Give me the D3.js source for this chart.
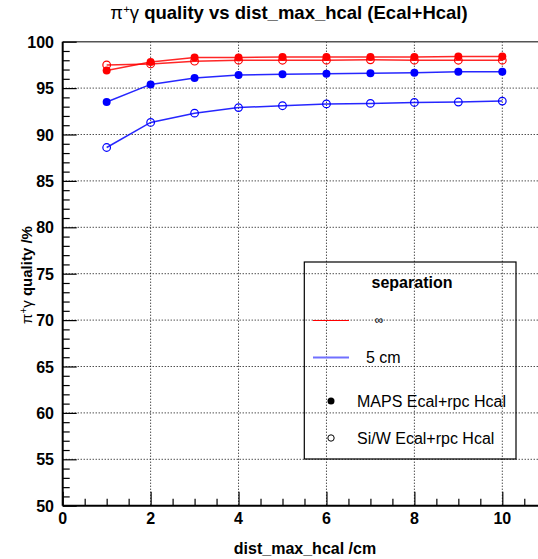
<!DOCTYPE html>
<html><head><meta charset="utf-8">
<script src="https://cdn.jsdelivr.net/npm/d3@7"></script>
<style>
body{margin:0;background:#fff;}
text{font-family:"Liberation Sans",Arial,sans-serif;}
</style></head>
<body><svg id="c" width="538" height="559"></svg>
<script>
const xValues = [1,2,3,4,5,6,7,8,9,10];
const mapsInf  = [96.9,97.8,98.3,98.3,98.35,98.35,98.35,98.35,98.4,98.4];
const siwInf   = [97.5,97.6,97.9,98.0,98.0,98.0,98.05,98.0,98.0,98.0];
const maps5cm  = [93.5,95.4,96.1,96.4,96.5,96.55,96.6,96.65,96.75,96.75];
const siw5cm   = [88.6,91.3,92.3,92.9,93.1,93.3,93.35,93.45,93.5,93.6];
const xTicks = [0,2,4,6,8,10];
const yTicks = [50,55,60,65,70,75,80,85,90,95,100];
const seriesList = [
  {name:"MAPS inf", vals:mapsInf, color:"#ff0000", filled:true},
  {name:"SiW inf", vals:siwInf, color:"#ff0000", filled:false},
  {name:"MAPS 5cm", vals:maps5cm, color:"#0000ff", filled:true},
  {name:"SiW 5cm", vals:siw5cm, color:"#0000ff", filled:false}
];

const svg = d3.select("#c");
const L=62.7, T=41.7, B=505.7;
const x = d3.scaleLinear().domain([0,10]).range([L,502.3]);
const y = d3.scaleLinear().domain([50,100]).range([B,T]);
const R = x(10.82);

// grid
const g = svg.append("g");
xTicks.filter(v=>v>0).forEach(v=>{
  g.append("line").attr("x1",x(v)).attr("x2",x(v)).attr("y1",T).attr("y2",B)
   .attr("stroke","#000").attr("stroke-width",1).attr("stroke-dasharray","1,2");
});
yTicks.filter(v=>v>50&&v<100).forEach(v=>{
  g.append("line").attr("x1",L).attr("x2",R).attr("y1",y(v)).attr("y2",y(v))
   .attr("stroke","#000").attr("stroke-width",1).attr("stroke-dasharray","1,2");
});

// frame top
svg.append("line").attr("x1",L).attr("x2",R).attr("y1",T).attr("y2",T).attr("stroke","#555").attr("stroke-width",1.5);

// axes
const xAxis = d3.axisBottom(x).tickValues(d3.range(0,10.81,0.5)).tickSize(0).tickFormat("");
const yAxis = d3.axisLeft(y).tickValues(d3.range(50,100.1,1)).tickSize(0).tickFormat("");
const ax = svg.append("g").attr("transform",`translate(0,${B})`).call(xAxis);
ax.select(".domain").attr("stroke","#000").attr("stroke-width",2).attr("d",`M${L},0H${R}`);
ax.selectAll(".tick line").attr("y2",d=>Number.isInteger(d/2)?-14:-7).attr("stroke","#000").attr("stroke-width",1.2);
const ay = svg.append("g").attr("transform",`translate(${L},0)`).call(yAxis);
ay.select(".domain").attr("stroke","#000").attr("stroke-width",2).attr("d",`M0,${B}V${T}`);
ay.selectAll(".tick line").attr("x2",d=>d%5===0?14:7).attr("stroke","#000").attr("stroke-width",1.2);

// tick labels
xTicks.forEach(v=>{
  svg.append("text").attr("x",x(v)).attr("y",524).attr("text-anchor","middle")
   .attr("font-size",16).attr("font-weight","bold").text(v);
});
yTicks.forEach(v=>{
  svg.append("text").attr("x",54).attr("y",y(v)+6).attr("text-anchor","end")
   .attr("font-size",16).attr("font-weight","bold").text(v);
});

// series
const line = d3.line().x((d,i)=>x(xValues[i])).y(d=>y(d));
seriesList.forEach(s=>{
  svg.append("path").datum(s.vals).attr("d",line).attr("fill","none")
   .attr("stroke",s.color).attr("stroke-width",1.5).attr("stroke-opacity",0.85);
  svg.selectAll(null).data(s.vals).enter().append("circle")
   .attr("cx",(d,i)=>x(xValues[i])).attr("cy",d=>y(d)).attr("r",s.filled?4:3.8)
   .attr("fill",s.filled?s.color:"none").attr("stroke",s.color).attr("stroke-width",s.filled?0:1.2);
});

// legend
svg.append("rect").attr("x",304.3).attr("y",262).attr("width",211.7).attr("height",197)
  .attr("fill","none").attr("stroke","#000").attr("stroke-width",1.2);
svg.append("text").attr("x",412).attr("y",288).attr("text-anchor","middle")
  .attr("font-size",16).attr("font-weight","bold").text("separation");
svg.append("line").attr("x1",313).attr("x2",349).attr("y1",320.5).attr("y2",320.5).attr("stroke","#ff0000").attr("stroke-width",1);
svg.append("text").attr("x",379).attr("y",324).attr("text-anchor","middle").attr("font-size",12).text("∞");
svg.append("line").attr("x1",313).attr("x2",349).attr("y1",357.5).attr("y2",357.5).attr("stroke","#7070ff").attr("stroke-width",2);
svg.append("text").attr("x",366).attr("y",363).attr("font-size",16).text("5 cm");
svg.append("circle").attr("cx",331).attr("cy",401).attr("r",3.5).attr("fill","#000");
svg.append("text").attr("x",357).attr("y",406.5).attr("font-size",16).text("MAPS Ecal+rpc Hcal");
svg.append("circle").attr("cx",331).attr("cy",438).attr("r",3.2).attr("fill","none").attr("stroke","#000").attr("stroke-width",1);
svg.append("text").attr("x",357).attr("y",444).attr("font-size",16).text("Si/W Ecal+rpc Hcal");

// title
const title = svg.append("text").attr("x",289).attr("y",19).attr("text-anchor","middle").attr("font-size",18.5).attr("font-weight","bold");
title.append("tspan").attr("font-weight","normal").text("π");
title.append("tspan").attr("font-size",11.5).attr("dy",-6).attr("font-weight","normal").text("+");
title.append("tspan").attr("dy",6).attr("font-weight","normal").text("γ");
title.append("tspan").text(" quality vs dist_max_hcal (Ecal+Hcal)");

// x title
svg.append("text").attr("x",305).attr("y",554).attr("text-anchor","middle").attr("font-size",16).attr("font-weight","bold").text("dist_max_hcal /cm");

// y title
const yt = svg.append("text").attr("transform","translate(32,275) rotate(-90)").attr("text-anchor","middle").attr("font-size",15).attr("font-weight","bold");
yt.append("tspan").attr("font-weight","normal").text("π");
yt.append("tspan").attr("font-size",10).attr("dy",-5).attr("font-weight","normal").text("+");
yt.append("tspan").attr("dy",5).attr("font-weight","normal").text("γ");
yt.append("tspan").text(" quality /%");
</script></body></html>
